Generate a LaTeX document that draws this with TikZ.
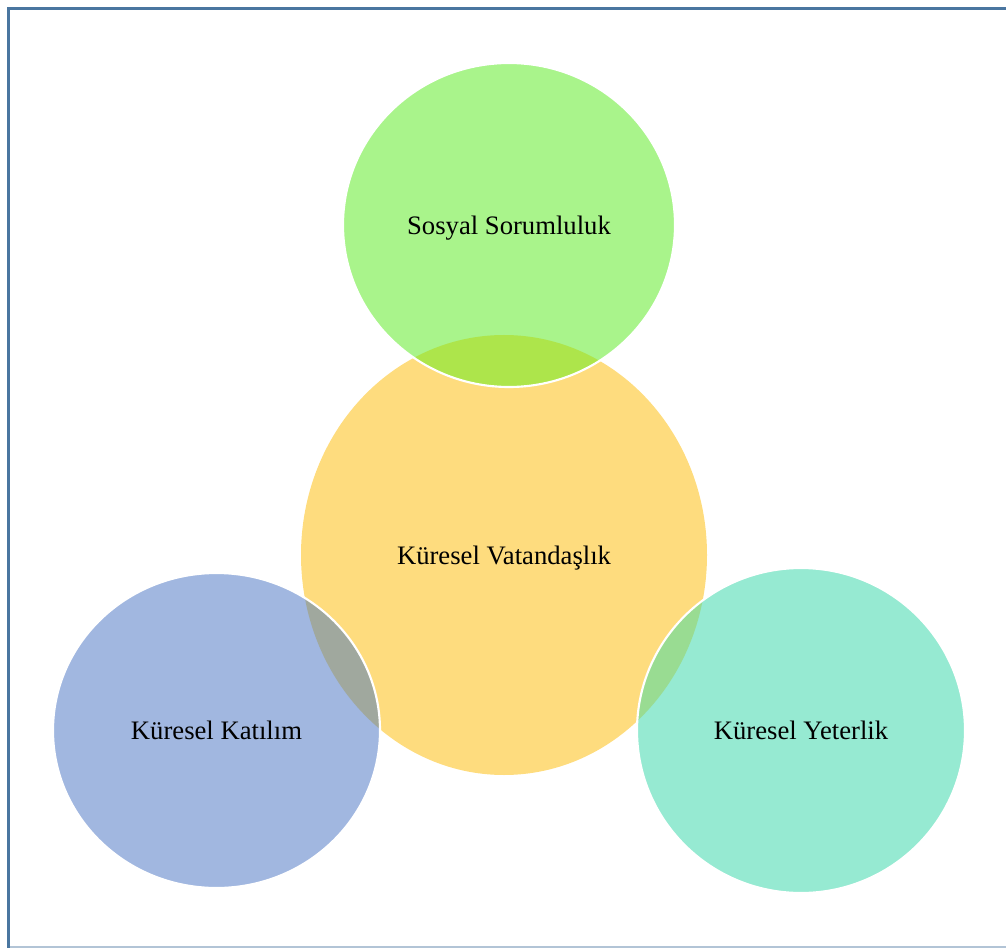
\documentclass[tikz,border=0pt]{standalone}
\usepackage{fontspec}
\setmainfont{Liberation Serif}
\usetikzlibrary{shapes.geometric}

\definecolor{frameblue}{RGB}{74,118,160}
\definecolor{framelight}{RGB}{178,196,214}
\definecolor{cyellow}{RGB}{254,220,126}
\definecolor{cgreen}{RGB}{169,244,139}
\definecolor{cblue}{RGB}{161,183,224}
\definecolor{cteal}{RGB}{150,234,210}
\definecolor{ovgreen}{RGB}{173,229,75}
\definecolor{ovblue}{RGB}{160,168,158}
\definecolor{ovteal}{RGB}{153,220,146}

\tikzset{
  bubble/.style={ellipse, inner sep=0pt, text=black},
  label text/.style={inner sep=0pt, font=\fontsize{20}{24}\selectfont, text height=0.68em, text depth=0.22em, yshift=-4.5pt},
  rim/.style={draw=white, line width=1.6pt},
}

\begin{document}
\begin{tikzpicture}[x=0.75pt, y=-0.75pt]
  \useasboundingbox (0,0) rectangle (1006,948);

  % frame
  \draw[framelight, line width=1.5pt] (9,946.5) -- (1006,946.5);
  \draw[frameblue, line width=2.6pt] (8.5,948) -- (8.5,8.5) -- (1006,8.5);

  % central ellipse
  \node[bubble, fill=cyellow, minimum width=304.5pt, minimum height=330pt] (kv) at (504,555) {};

  % outer circles
  \node[bubble, fill=cgreen, minimum width=249pt, minimum height=243pt] (ss) at (509,225) {};
  \node[bubble, fill=cblue, minimum width=245.25pt, minimum height=236.25pt] (kk) at (216.5,730.5) {};
  \node[bubble, fill=cteal, minimum width=246pt, minimum height=243.75pt] (ky) at (801,730.5) {};

  % overlaps with the central ellipse
  \begin{scope}
    \clip (kv.center) ellipse [x radius=152.25pt, y radius=165pt];
    \fill[ovgreen] (ss.center) ellipse [x radius=124.5pt, y radius=121.5pt];
    \fill[ovblue] (kk.center) ellipse [x radius=122.625pt, y radius=118.125pt];
    \fill[ovteal] (ky.center) ellipse [x radius=123pt, y radius=121.875pt];
  \end{scope}

  % white rims of the outer circles
  \draw[rim] (ss.center) ellipse [x radius=124.5pt, y radius=121.5pt];
  \draw[rim] (kk.center) ellipse [x radius=122.625pt, y radius=118.125pt];
  \draw[rim] (ky.center) ellipse [x radius=123pt, y radius=121.875pt];

  % labels
  \node[label text] (kvt) at (kv.center) {Küresel Vatandaşlık};
  \node[label text] (sst) at (ss.center) {Sosyal Sorumluluk};
  \node[label text] (kkt) at (kk.center) {Küresel Katılım};
  \node[label text] (kyt) at (ky.center) {Küresel Yeterlik};
\end{tikzpicture}
\end{document}
